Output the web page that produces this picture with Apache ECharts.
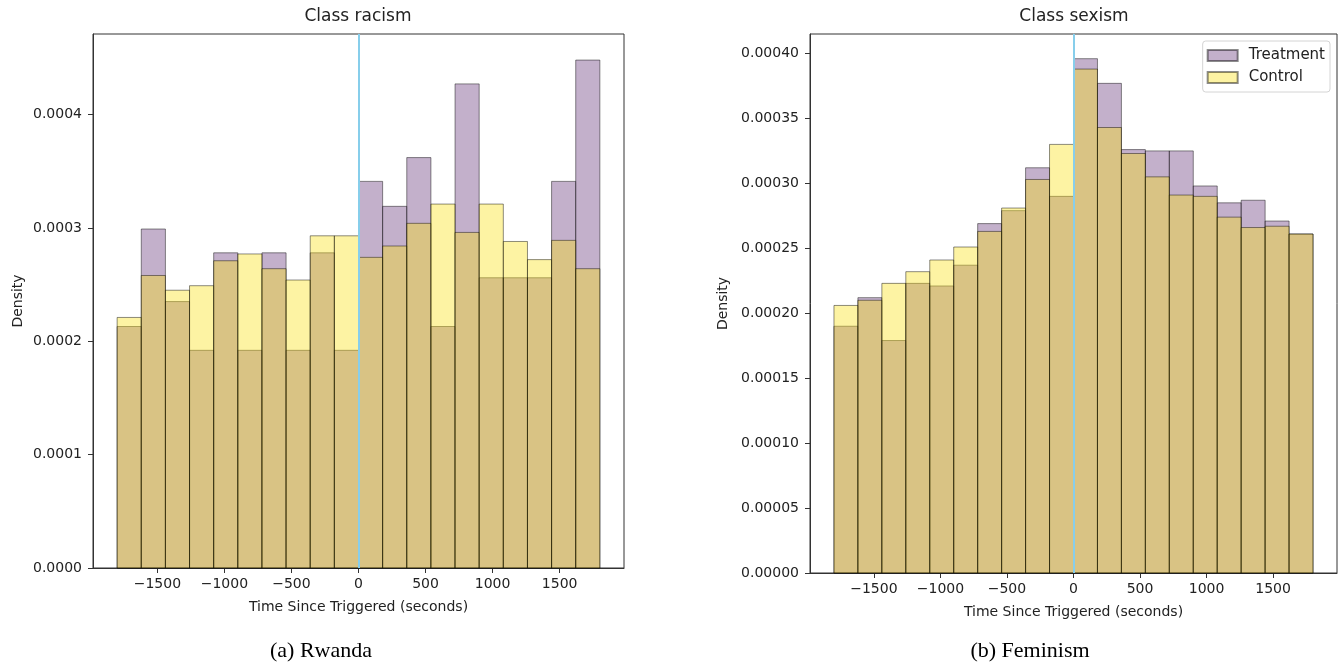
<!DOCTYPE html>
<html>
<head>
<meta charset="utf-8">
<script src="https://cdn.jsdelivr.net/npm/echarts@6/dist/echarts.min.js"></script>
<style>
html,body{margin:0;padding:0;background:#fff;}
#chart{width:1343px;height:663px;}
</style>
</head>
<body>
<div id="chart"></div>
<script>
// ---- data ----
const binEdges = [-1800, -1620, -1440, -1260, -1080, -900, -720, -540, -360, -180, 0,
                  180, 360, 540, 720, 900, 1080, 1260, 1440, 1620, 1800];

const racismTreatment = [0.000213, 0.000299, 0.000235, 0.000192, 0.000278, 0.000192, 0.000278, 0.000192, 0.000278, 0.000192,
                         0.000341, 0.000319, 0.000362, 0.000213, 0.000427, 0.000256, 0.000256, 0.000256, 0.000341, 0.000448];
const racismControl   = [0.000221, 0.000258, 0.000245, 0.000249, 0.000271, 0.000277, 0.000264, 0.000254, 0.000293, 0.000293,
                         0.000274, 0.000284, 0.000304, 0.000321, 0.000296, 0.000321, 0.000288, 0.000272, 0.000289, 0.000264];

const sexismTreatment = [0.000190, 0.000212, 0.000179, 0.000223, 0.000221, 0.000237, 0.000269, 0.000279, 0.000312, 0.000290,
                         0.000396, 0.000377, 0.000326, 0.000325, 0.000325, 0.000298, 0.000285, 0.000287, 0.000271, 0.000261];
const sexismControl   = [0.000206, 0.000210, 0.000223, 0.000232, 0.000241, 0.000251, 0.000263, 0.000281, 0.000303, 0.000330,
                         0.000388, 0.000343, 0.000323, 0.000305, 0.000291, 0.000290, 0.000274, 0.000266, 0.000267, 0.000261];

const xTicks = [-1500, -1000, -500, 0, 500, 1000, 1500];
const yTicksLeft = [0, 0.0001, 0.0002, 0.0003, 0.0004];
const yTicksRight = [0, 0.00005, 0.0001, 0.00015, 0.0002, 0.00025, 0.0003, 0.00035, 0.0004];

const titles = ['Class racism', 'Class sexism'];
const captions = ['(a) Rwanda', '(b) Feminism'];
const seriesNames = ['Treatment', 'Control'];
const xLabel = 'Time Since Triggered (seconds)';
const yLabel = 'Density';

// ---- styling ----
const treatColor = 'rgba(136,97,151,0.5)';
const ctrlColor = 'rgba(250,226,25,0.4)';
const edgeColor = 'rgba(0,0,0,0.45)';
const axisColor = '#333';
const font = 'DejaVu Sans';

function histData(vals) {
  return vals.map((v, i) => [binEdges[i], binEdges[i + 1], v]);
}

function renderBar(params, api) {
  const x0 = api.value(0), x1 = api.value(1), v = api.value(2);
  const p0 = api.coord([x0, v]);
  const p1 = api.coord([x1, 0]);
  return {
    type: 'rect',
    shape: { x: p0[0], y: p0[1], width: p1[0] - p0[0], height: p1[1] - p0[1] },
    style: { fill: api.visual('color'), stroke: edgeColor, lineWidth: 1 }
  };
}

function minusFmt(v) {
  return String(v).replace('-', '\u2212');
}

const grids = [
  { left: 93, top: 34, width: 531, height: 534, show: true, borderColor: axisColor, borderWidth: 1 },
  { left: 810, top: 34, width: 527, height: 539, show: true, borderColor: axisColor, borderWidth: 1 }
];

function xAxisCfg(gi) {
  return {
    type: 'value', gridIndex: gi, min: -1980, max: 1980,
    name: xLabel, nameLocation: 'middle', nameGap: 32,
    nameTextStyle: { fontFamily: font, fontSize: 14, color: '#222' },
    axisLine: { show: true, onZero: false, lineStyle: { color: axisColor, width: 1 } },
    axisTick: { show: true, length: 5, customValues: xTicks, lineStyle: { color: axisColor } },
    axisLabel: { customValues: xTicks, formatter: minusFmt, fontFamily: font, fontSize: 14, color: '#222', margin: 9 },
    splitLine: { show: false }
  };
}

function yAxisCfg(gi, max, ticks, dec, gap) {
  return {
    type: 'value', gridIndex: gi, min: 0, max: max, position: 'left',
    name: yLabel, nameLocation: 'middle', nameGap: gap,
    nameTextStyle: { fontFamily: font, fontSize: 14, color: '#222' },
    axisLine: { show: true, onZero: false, lineStyle: { color: axisColor, width: 1 } },
    axisTick: { show: true, length: 5, customValues: ticks, lineStyle: { color: axisColor } },
    axisLabel: { customValues: ticks, formatter: v => Number(v).toFixed(dec), fontFamily: font, fontSize: 14, color: '#222', margin: 11 },
    splitLine: { show: false }
  };
}

const vline = {
  silent: true, symbol: ['none', 'none'], animation: false,
  label: { show: false },
  lineStyle: { color: '#87CEEB', width: 2, type: 'solid', opacity: 1 },
  data: [{ xAxis: 0 }]
};

function histSeries(name, vals, gi, color, withLine) {
  const s = {
    type: 'custom', name: name, xAxisIndex: gi, yAxisIndex: gi,
    renderItem: renderBar, data: histData(vals),
    encode: { x: [0, 1], y: 2 },
    itemStyle: { color: color, borderColor: edgeColor, borderWidth: 1 },
    clip: false
  };
  if (withLine) s.markLine = vline;
  return s;
}

const chart = echarts.init(document.getElementById('chart'), null, { renderer: 'canvas' });
chart.setOption({
  animation: false,
  backgroundColor: '#fff',
  title: [
    { text: titles[0], left: 358, top: 8, textAlign: 'center', padding: 0,
      textStyle: { fontFamily: font, fontSize: 17, fontWeight: 'normal', color: '#222' } },
    { text: titles[1], left: 1074, top: 8, textAlign: 'center', padding: 0,
      textStyle: { fontFamily: font, fontSize: 17, fontWeight: 'normal', color: '#222' } },
    { text: captions[0], left: 321, top: 640, textAlign: 'center', padding: 0,
      textStyle: { fontFamily: 'Liberation Serif', fontSize: 22, fontWeight: 'normal', color: '#000' } },
    { text: captions[1], left: 1030, top: 640, textAlign: 'center', padding: 0,
      textStyle: { fontFamily: 'Liberation Serif', fontSize: 22, fontWeight: 'normal', color: '#000' } }
  ],
  legend: {
    data: seriesNames,
    orient: 'vertical', right: 13, top: 41,
    icon: 'rect', itemWidth: 30, itemHeight: 11, itemGap: 5,
    padding: [6, 5, 6, 4],
    backgroundColor: 'rgba(255,255,255,0.8)', borderColor: '#d4d4d4', borderWidth: 1, borderRadius: 3,
    textStyle: { fontFamily: font, fontSize: 15, color: '#222', lineHeight: 17, padding: [0, 0, 0, 6] },
    selectedMode: false
  },
  grid: grids,
  xAxis: [xAxisCfg(0), xAxisCfg(1)],
  yAxis: [yAxisCfg(0, 0.000471, yTicksLeft, 4, 68), yAxisCfg(1, 0.000415, yTicksRight, 5, 80)],
  series: [
    histSeries(seriesNames[0], racismTreatment, 0, treatColor, false),
    histSeries(seriesNames[1], racismControl, 0, ctrlColor, true),
    histSeries(seriesNames[0], sexismTreatment, 1, treatColor, false),
    histSeries(seriesNames[1], sexismControl, 1, ctrlColor, true)
  ]
});
</script>
</body>
</html>
